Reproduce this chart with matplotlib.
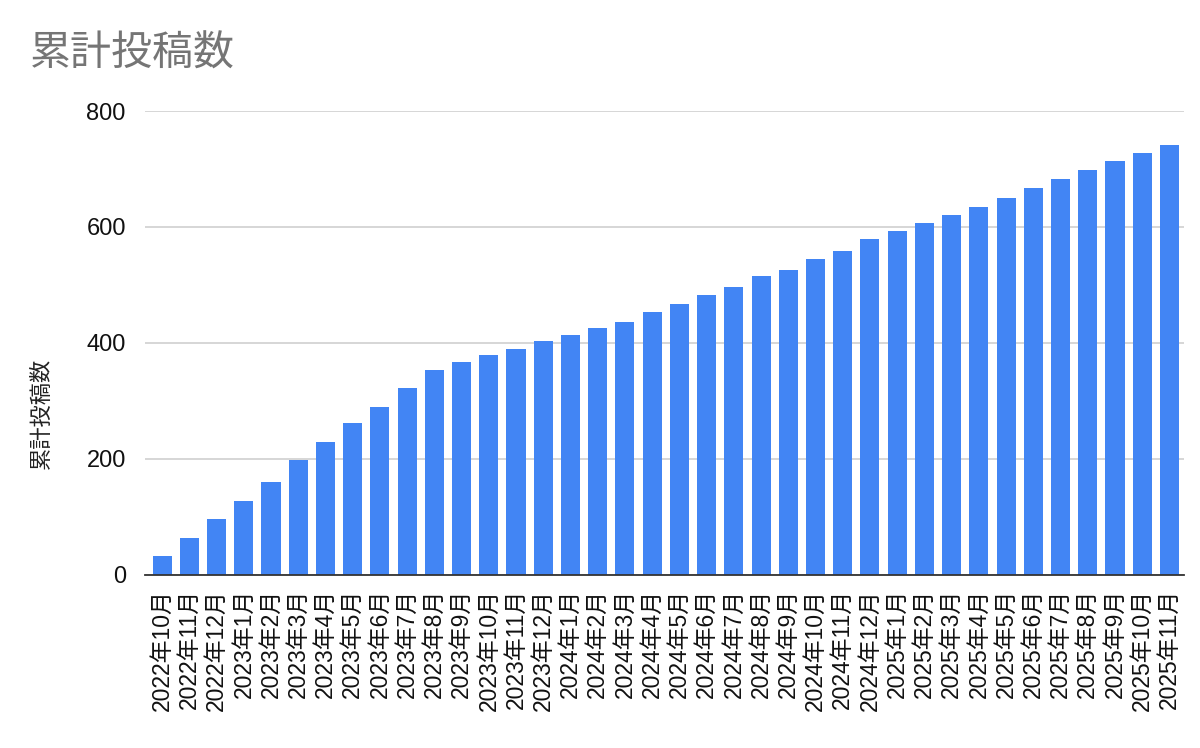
import matplotlib
matplotlib.use("Agg")
import matplotlib.pyplot as plt

plt.rcParams["font.family"] = ["Liberation Sans", "Noto Sans CJK JP"]

# monthly labels
months = (
    [f"2022年{m}月" for m in (10, 11, 12)]
    + [f"2023年{m}月" for m in range(1, 13)]
    + [f"2024年{m}月" for m in range(1, 13)]
    + [f"2025年{m}月" for m in range(1, 12)]
)

# cumulative post counts
totals = [
    32, 64, 96,
    128, 160, 199, 230, 262, 290, 322, 354, 368, 379, 390, 403,
    414, 425, 436, 454, 468, 483, 497, 515, 526, 544, 558, 579,
    593, 607, 621, 635, 650, 667, 682, 699, 714, 728, 742,
]

fig = plt.figure(figsize=(12, 7.48), dpi=100)
ax = fig.add_axes([0.121, 0.2313, 0.866, 0.6203])

x = range(len(months))
ax.bar(x, totals, width=0.7, color="#4285F4", zorder=3)

ax.set_ylim(0, 800)
ax.set_yticks([0, 200, 400, 600, 800])
ax.set_xlim(-0.62, len(months) - 0.45)
ax.set_xticks(list(x))
ax.set_xticklabels(months, rotation=90, fontsize=16.5, color="#111111")
ax.tick_params(axis="y", labelsize=17, colors="#111111", length=0, pad=14)
ax.tick_params(axis="x", length=0, pad=10)

ax.grid(axis="y", color="#d0d0d0", linewidth=1.2, zorder=0)
for s in ["top", "right", "left"]:
    ax.spines[s].set_visible(False)
ax.spines["bottom"].set_color("#333333")
ax.spines["bottom"].set_linewidth(1.3)
ax.spines["bottom"].set_zorder(4)

# axis title sits lower than the axes centre in the original
fig.text(0.035, 0.448, "累計投稿数", fontsize=16, color="#222222",
         rotation=90, ha="center", va="center")

fig.text(0.025, 0.912, "累計投稿数", fontsize=29.5, color="#757575")

plt.savefig("out.png")
